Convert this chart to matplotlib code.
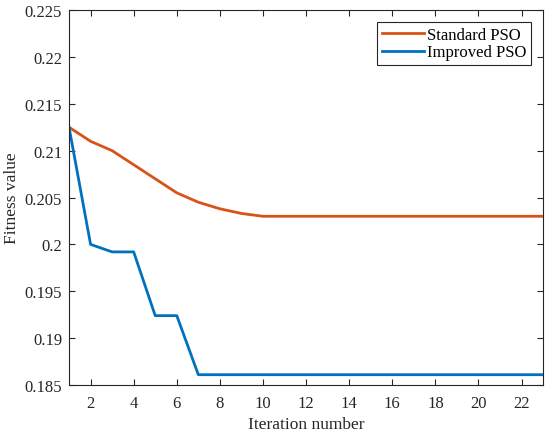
import matplotlib.pyplot as plt
from matplotlib.ticker import FuncFormatter

plt.rcParams['font.family'] = ['Liberation Serif', 'DejaVu Serif']
plt.rcParams['font.serif'] = ['Liberation Serif', 'DejaVu Serif']

iterations = list(range(1, 24))
standard_pso = [0.2125, 0.2110, 0.2100, 0.2085, 0.2070, 0.2055, 0.2045, 0.2038, 0.2033, 0.2030,
                0.2030, 0.2030, 0.2030, 0.2030, 0.2030, 0.2030, 0.2030, 0.2030, 0.2030, 0.2030,
                0.2030, 0.2030, 0.2030]
improved_pso = [0.2125, 0.2000, 0.1992, 0.1992, 0.1924, 0.1924, 0.1861, 0.1861, 0.1861, 0.1861,
                0.1861, 0.1861, 0.1861, 0.1861, 0.1861, 0.1861, 0.1861, 0.1861, 0.1861, 0.1861,
                0.1861, 0.1861, 0.1861]
y_ticks = [0.185, 0.19, 0.195, 0.2, 0.205, 0.21, 0.215, 0.22, 0.225]
x_ticks = list(range(2, 24, 2))

fig = plt.figure(figsize=(5.5, 4.35), dpi=100)
ax = fig.add_axes([0.1255, 0.1126, 0.862, 0.862])

ax.plot(iterations, standard_pso, color='#D95319', lw=2, label='Standard PSO')
ax.plot(iterations, improved_pso, color='#0072BD', lw=2, label='Improved PSO')

ax.set_xlim(1, 23)
ax.set_ylim(0.185, 0.225)
ax.set_xticks(x_ticks)
ax.set_yticks(y_ticks)
ax.yaxis.set_major_formatter(FuncFormatter(lambda v, p: ('%.3f' % v).rstrip('0').rstrip('.')))
ax.tick_params(direction='in', top=True, right=True, labelsize=12, length=4, width=0.8,
               colors='#262626')
ax.tick_params(axis='y', pad=5)
ax.tick_params(axis='x', pad=7)
for lbl in ax.get_xticklabels() + ax.get_yticklabels():
    lbl.set_fontfamily('Liberation Serif')
for s in ax.spines.values():
    s.set_color('#262626')
    s.set_linewidth(0.8)

ax.set_xlabel('Iteration number', fontsize=12.5, color='#262626', labelpad=4)
ax.set_ylabel('Fitness value', fontsize=12.5, color='#262626', labelpad=3)

leg = ax.legend(loc='upper right', fontsize=12, fancybox=False, edgecolor='#262626',
                framealpha=1, handlelength=2.5, handletextpad=0.2, borderpad=0.3,
                labelspacing=0.1, borderaxespad=0.7)
leg.get_frame().set_linewidth(0.8)

fig.savefig('out.png', dpi=100)
